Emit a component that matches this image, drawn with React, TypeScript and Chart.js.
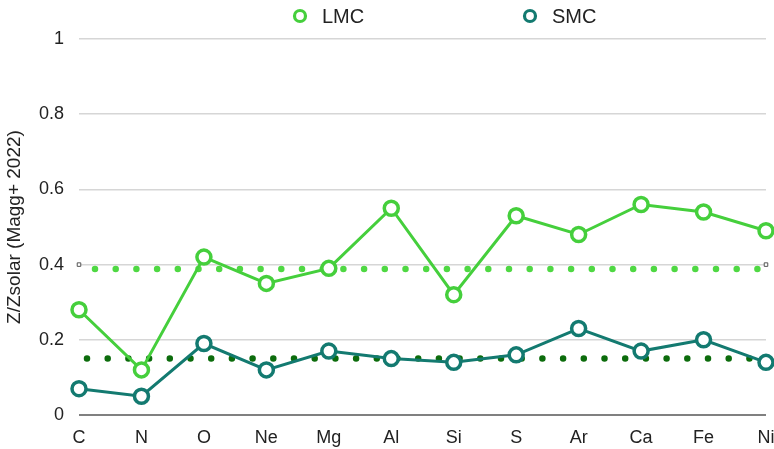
import React, { useEffect, useRef } from "react";
import { Chart, registerables } from "chart.js";

Chart.register(...registerables);

const elements = ["C", "N", "O", "Ne", "Mg", "Al", "Si", "S", "Ar", "Ca", "Fe", "Ni"];
const lmcValues = [0.28, 0.12, 0.42, 0.35, 0.39, 0.55, 0.32, 0.53, 0.48, 0.56, 0.54, 0.49];
const smcValues = [0.07, 0.05, 0.19, 0.12, 0.17, 0.15, 0.14, 0.16, 0.23, 0.17, 0.2, 0.14];
const lmcMean = 0.388;
const smcMean = 0.15;
const refMarkerValue = 0.4;
const yTicks = [0, 0.2, 0.4, 0.6, 0.8, 1];
const legendNames = ["LMC", "SMC"];
const yTitle = "Z/Zsolar (Magg+ 2022)";

const LMC_COLOR = "#45cf3c";
const SMC_COLOR = "#137a70";
const LMC_DOT = "#4fd843";
const SMC_DOT = "#0c6c0c";
const FONT = "'Liberation Sans', Arial, Helvetica, sans-serif";

export default function App() {
  const ref = useRef<HTMLCanvasElement | null>(null);

  useEffect(() => {
    if (!ref.current) return;
    const n = elements.length;
    const legendPlugin = {
      id: "customLegend",
      afterDraw(chart: any) {
        const ctx = chart.ctx;
        const items = [
          { name: legendNames[0], color: LMC_COLOR, x: 300 },
          { name: legendNames[1], color: SMC_COLOR, x: 530 },
        ];
        ctx.save();
        items.forEach((it) => {
          ctx.beginPath();
          ctx.arc(it.x, 16, 5.5, 0, Math.PI * 2);
          ctx.fillStyle = "#fff";
          ctx.fill();
          ctx.lineWidth = 3.2;
          ctx.strokeStyle = it.color;
          ctx.stroke();
          ctx.fillStyle = "#222";
          ctx.font = `20px ${FONT}`;
          ctx.textBaseline = "middle";
          ctx.textAlign = "left";
          ctx.fillText(it.name, it.x + 22, 17);
        });
        ctx.restore();
      },
    };

    const chart = new Chart(ref.current, {
      type: "line",
      data: {
        labels: elements,
        datasets: [
          {
            label: "LMC mean",
            data: elements.map(() => lmcMean),
            borderColor: LMC_DOT,
            borderWidth: 6.5,
            borderDash: [0, 20.7],
            borderDashOffset: 4.7,
            borderCapStyle: "round",
            pointRadius: 0,
            fill: false,
            order: 5,
          },
          {
            label: "SMC mean",
            data: elements.map(() => smcMean),
            borderColor: SMC_DOT,
            borderWidth: 6.5,
            borderDash: [0, 20.7],
            borderDashOffset: 12.7,
            borderCapStyle: "round",
            pointRadius: 0,
            fill: false,
            order: 5,
          },
          {
            label: "ref",
            data: elements.map((_, i) => (i === 0 || i === n - 1 ? refMarkerValue : null)),
            showLine: false,
            pointStyle: "rect",
            pointRadius: 2.5,
            pointBorderWidth: 1,
            pointBorderColor: "#555",
            pointBackgroundColor: "#fff",
            order: 4,
          },
          {
            label: "SMC",
            data: smcValues,
            borderColor: SMC_COLOR,
            borderWidth: 3,
            pointRadius: 7,
            pointBorderWidth: 3.5,
            pointBackgroundColor: "#fff",
            pointBorderColor: SMC_COLOR,
            fill: false,
            order: 2,
          },
          {
            label: "LMC",
            data: lmcValues,
            borderColor: LMC_COLOR,
            borderWidth: 3,
            pointRadius: 7,
            pointBorderWidth: 3.5,
            pointBackgroundColor: "#fff",
            pointBorderColor: LMC_COLOR,
            fill: false,
            order: 1,
          },
        ],
      },
      options: {
        responsive: false,
        animation: false,
        devicePixelRatio: 1,
        clip: false as any,
        layout: { padding: { left: 0, top: 39, right: 24, bottom: 0 } },
        plugins: {
          legend: { display: false },
          tooltip: { enabled: false },
        },
        scales: {
          x: {
            offset: false,
            grid: { display: false, drawTicks: false },
            border: { display: false },
            ticks: {
              color: "#222",
              font: { size: 18, family: FONT },
              padding: 12,
              maxRotation: 0,
              autoSkip: false,
            },
            afterFit: (s: any) => {
              s.height = 34;
            },
          },
          y: {
            min: 0,
            max: 1,
            afterBuildTicks: (s: any) => {
              s.ticks = yTicks.map((v) => ({ value: v }));
            },
            grid: {
              drawTicks: false,
              color: (c: any) => (c.tick && c.tick.value === 0 ? "#808080" : "#d6d6d6"),
              lineWidth: (c: any) => (c.tick && c.tick.value === 0 ? 2 : 1.5),
            },
            border: { display: false },
            ticks: {
              color: "#222",
              font: { size: 18, family: FONT },
              padding: 15,
              callback: (v: any) => String(Number(v)),
            },
            title: {
              display: true,
              text: yTitle,
              color: "#222",
              font: { size: 19, family: FONT },
              padding: { top: 3, bottom: 0 },
            },
            afterFit: (s: any) => {
              s.width = 79;
            },
          },
        },
      },
      plugins: [legendPlugin],
    });
    return () => chart.destroy();
  }, []);

  return (
    <div style={{ position: "absolute", left: 0, top: 0, width: 774, height: 449, overflow: "hidden", background: "#fff" }}>
      <canvas ref={ref} width={790} height={449} style={{ display: "block" }} />
    </div>
  );
}
